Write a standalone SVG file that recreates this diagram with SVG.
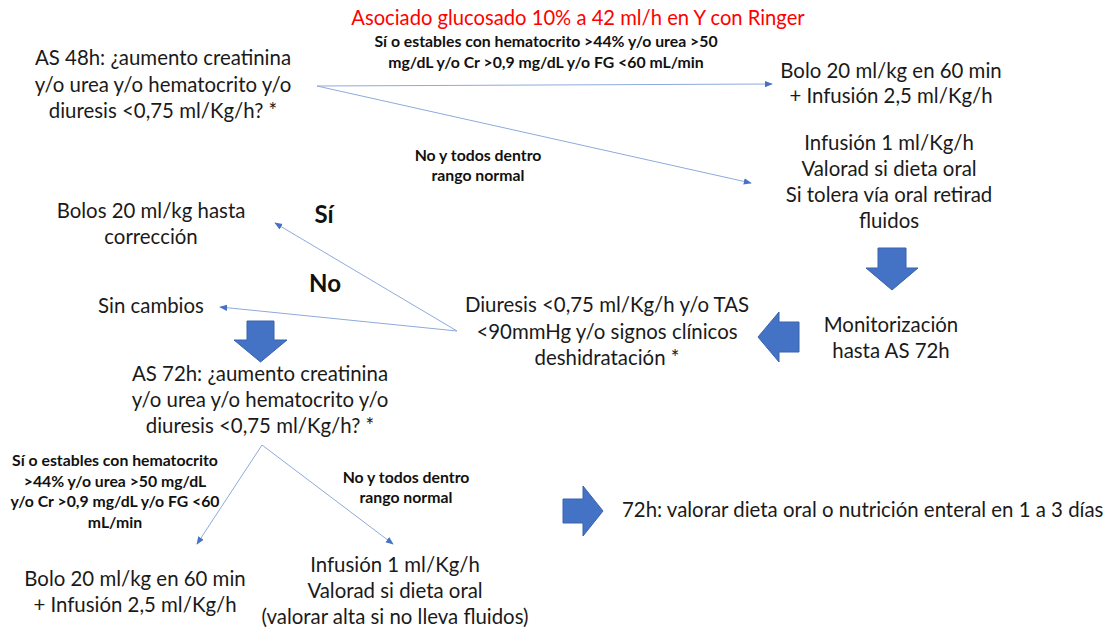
<svg xmlns="http://www.w3.org/2000/svg" width="1115" height="632" viewBox="0 0 1115 632">
<style>
.t{font-family:Lato,"Open Sans","Liberation Sans",sans-serif;font-size:20.4px;fill:#1a1a1a;text-anchor:middle}
.b{font-family:Lato,"Open Sans","Liberation Sans",sans-serif;font-size:15.8px;font-weight:bold;fill:#111;text-anchor:middle}
.r{font-family:Lato,"Open Sans","Liberation Sans",sans-serif;font-size:20.2px;fill:#ff0000;text-anchor:middle}
.big{font-family:Lato,"Open Sans","Liberation Sans",sans-serif;font-size:24px;font-weight:bold;fill:#111;text-anchor:middle}
.c{stroke:#8eaadb;stroke-width:1;fill:none;marker-end:url(#ah)}
.blk{fill:#4472c4;stroke:#3a62ad;stroke-width:1}
</style>
<defs>
<marker id="ah" viewBox="0 0 10 10" refX="9" refY="5" markerWidth="8" markerHeight="8" markerUnits="userSpaceOnUse" orient="auto">
<path d="M0,1 L10,5 L0,9 z" fill="#4472c4"/>
</marker>
</defs>
<text class="r" x="578" y="25">Asociado glucosado 10% a 42 ml/h en Y con Ringer</text>
<g id="connectors">
<line class="c" x1="317" y1="86" x2="772" y2="84"/>
<line class="c" x1="317" y1="86" x2="751" y2="183"/>
<line class="c" x1="457" y1="331" x2="275" y2="223"/>
<line class="c" x1="457" y1="331" x2="220" y2="307"/>
<line class="c" x1="262" y1="445" x2="197" y2="544"/>
<line class="c" x1="262" y1="445" x2="393" y2="544"/>
</g>
<g id="labels">
<text class="b" x="546" y="47">Sí o estables con hematocrito &gt;44% y/o urea &gt;50</text>
<text class="b" x="546" y="68">mg/dL y/o Cr &gt;0,9 mg/dL y/o FG &lt;60 mL/min</text>
<text class="b" x="478" y="161">No y todos dentro</text>
<text class="b" x="478" y="181">rango normal</text>
<text class="big" x="324" y="223">Sí</text>
<text class="big" x="325" y="292">No</text>
<text class="b" x="115" y="466">Sí o estables con hematocrito</text>
<text class="b" x="115" y="487">&gt;44% y/o urea &gt;50 mg/dL</text>
<text class="b" x="115" y="507">y/o Cr &gt;0,9 mg/dL y/o FG &lt;60</text>
<text class="b" x="115" y="528">mL/min</text>
<text class="b" x="406" y="483">No y todos dentro</text>
<text class="b" x="406" y="503">rango normal</text>
</g>
<g id="n-as48">
<text class="t" x="163" y="65">AS 48h: ¿aumento creatinina</text>
<text class="t" x="163" y="92">y/o urea y/o hematocrito y/o</text>
<text class="t" x="163" y="118">diuresis &lt;0,75 ml/Kg/h? *</text>
</g>
<g id="n-bolo1">
<text class="t" x="891" y="78">Bolo 20 ml/kg en 60 min</text>
<text class="t" x="891" y="103">+ Infusión 2,5 ml/Kg/h</text>
</g>
<g id="n-inf1">
<text class="t" x="889" y="150">Infusión 1 ml/Kg/h</text>
<text class="t" x="889" y="176">Valorad si dieta oral</text>
<text class="t" x="889" y="202">Si tolera vía oral retirad</text>
<text class="t" x="889" y="228">fluidos</text>
</g>
<g id="arrow-down-1"><path class="blk" d="M878,248 H906 V268 H918 L892,290 L866,268 H878 Z"/></g>
<g id="n-monit">
<text class="t" x="891" y="332">Monitorización</text>
<text class="t" x="891" y="358">hasta AS 72h</text>
</g>
<g id="arrow-left"><path class="blk" d="M799,322 V352 H779 V362 L758,337 L779,312 V322 Z"/></g>
<g id="n-diuresis">
<text class="t" x="607" y="312">Diuresis &lt;0,75 ml/Kg/h y/o TAS</text>
<text class="t" x="607" y="339">&lt;90mmHg y/o signos clínicos</text>
<text class="t" x="607" y="365">deshidratación *</text>
</g>
<g id="n-bolos">
<text class="t" x="151" y="218">Bolos 20 ml/kg hasta</text>
<text class="t" x="151" y="244">corrección</text>
</g>
<g id="n-sin"><text class="t" x="151" y="313">Sin cambios</text></g>
<g id="arrow-down-2"><path class="blk" d="M247,321 H274 V340 H287 L260.5,362 L234,340 H247 Z"/></g>
<g id="n-as72">
<text class="t" x="260" y="381">AS 72h: ¿aumento creatinina</text>
<text class="t" x="260" y="407">y/o urea y/o hematocrito y/o</text>
<text class="t" x="260" y="433">diuresis &lt;0,75 ml/Kg/h? *</text>
</g>
<g id="n-bolo2">
<text class="t" x="135" y="586">Bolo 20 ml/kg en 60 min</text>
<text class="t" x="135" y="612">+ Infusión 2,5 ml/Kg/h</text>
</g>
<g id="n-inf2">
<text class="t" x="395" y="572">Infusión 1 ml/Kg/h</text>
<text class="t" x="395" y="598">Valorad si dieta oral</text>
<text class="t" x="395" y="624">(valorar alta si no lleva fluidos)</text>
</g>
<g id="arrow-right"><path class="blk" d="M563,499 H583 V486 L603,511 L583,536 V523 H563 Z"/></g>
<g id="n-72h"><text class="t" x="622" y="517" style="text-anchor:start">72h: valorar dieta oral o nutrición enteral en 1 a 3 días</text></g>
</svg>
